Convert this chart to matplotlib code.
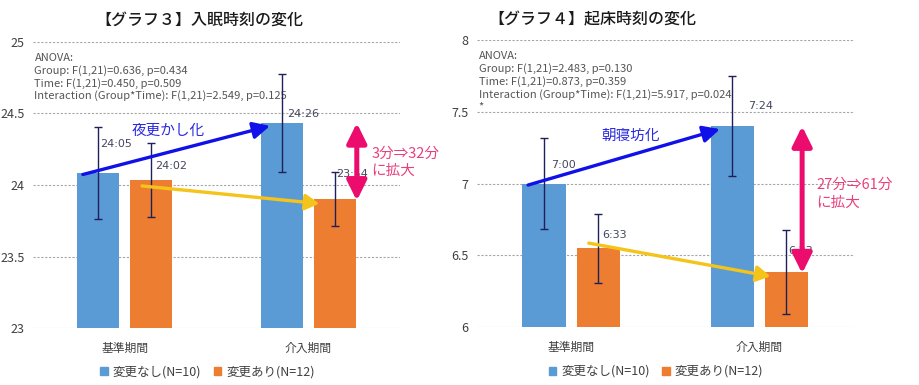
import matplotlib
matplotlib.use("Agg")
import matplotlib.pyplot as plt
from matplotlib.patches import Patch, FancyArrowPatch

plt.rcParams["font.family"] = ["Noto Sans CJK JP", "DejaVu Sans"]
plt.rcParams["axes.unicode_minus"] = False

BLUE = "#5b9bd5"
ORANGE = "#ed7d31"
ERR = "#1f1f5c"
GRID = "#a6a6a6"
TXT = "#404040"
LABEL = "#44475e"
ARROW_BLUE = "#1010e8"
ARROW_YEL = "#f5c41a"
PINK = "#ec0c6e"
PINK_TXT = "#e8407c"

periods = ["基準期間", "介入期間"]
series = ["変更なし(N=10)", "変更あり(N=12)"]

# graph 3: bedtime (means read as h:mm)
bed_none = ["24:05", "24:26"]
bed_change = ["24:02", "23:54"]
bed_none_sd = [0.32, 0.34]
bed_change_sd = [0.26, 0.19]
bed_ticks = [23, 23.5, 24, 24.5, 25]
bed_anova = [
    "ANOVA:",
    "Group: F(1,21)=0.636, p=0.434",
    "Time: F(1,21)=0.450, p=0.509",
    "Interaction (Group*Time): F(1,21)=2.549, p=0.125",
]

# graph 4: wake time
wake_none = ["7:00", "7:24"]
wake_change = ["6:33", "6:23"]
wake_none_sd = [0.32, 0.35]
wake_change_sd = [0.24, 0.29]
wake_ticks = [6, 6.5, 7, 7.5, 8]
wake_anova = [
    "ANOVA:",
    "Group: F(1,21)=2.483, p=0.130",
    "Time: F(1,21)=0.873, p=0.359",
    "Interaction (Group*Time): F(1,21)=5.917, p=0.024",
    "*",
]


def to_hours(s):
    h, m = s.split(":")
    return int(h) + int(m) / 60


W = 0.229
OFF = 0.144


def draw_panel(ax, none, change, none_sd, change_sd, ticks, anova,
               label_dy, label_dx, trend_text, trend_pos, gap_text, gap_pos, pink_x):
    a = [to_hours(s) for s in none]
    b = [to_hours(s) for s in change]
    xa = [i - OFF for i in range(2)]
    xb = [i + OFF for i in range(2)]
    ax.bar(xa, a, W, color=BLUE, zorder=2)
    ax.bar(xb, b, W, color=ORANGE, zorder=2)
    ax.errorbar(xa, a, yerr=none_sd, fmt="none", ecolor=ERR, elinewidth=1,
                capsize=3, capthick=1, zorder=3)
    ax.errorbar(xb, b, yerr=change_sd, fmt="none", ecolor=ERR, elinewidth=1,
                capsize=3, capthick=1, zorder=3)

    labels = [none[0], change[0], none[1], change[1]]
    xs = [xa[0], xb[0], xa[1], xb[1]]
    ys = [a[0], b[0], a[1], b[1]]
    for lab, x, y, dy, dx in zip(labels, xs, ys, label_dy, label_dx):
        ax.text(x + dx, y + dy, lab, fontsize=8, color=LABEL, ha="left",
                va="center", family=["DejaVu Sans"], zorder=4)

    ax.set_ylim(ticks[0], ticks[-1])
    ax.set_xlim(-0.5, 1.5)
    ax.set_yticks(ticks)
    ax.set_yticklabels([f"{t:g}" for t in ticks])
    ax.set_xticks([0, 1])
    ax.set_xticklabels(periods)
    ax.tick_params(axis="both", length=0, colors=TXT)
    ax.tick_params(axis="y", labelsize=9, pad=6)
    ax.tick_params(axis="x", labelsize=8.5, pad=10)
    for sp in ax.spines.values():
        sp.set_visible(False)
    ax.yaxis.grid(True, color=GRID, lw=0.8, linestyle=(0, (2, 1.5)))
    ax.set_axisbelow(True)

    ax.text(0.004, 0.962, "\n".join(anova), transform=ax.transAxes, fontsize=8,
            color="#555555", ha="left", va="top", linespacing=1.22, zorder=1)

    w2 = W / 2
    # blue trend arrow: base blue bar top -> intervention blue bar top
    ax.add_patch(FancyArrowPatch(
        (xa[0] - w2 + 0.03, a[0] - 0.01), (xa[1] - w2 + 0.05, a[1] - 0.02),
        arrowstyle="-|>,head_length=0.85,head_width=0.42", mutation_scale=12,
        color=ARROW_BLUE, lw=2.4, zorder=5, shrinkA=0, shrinkB=0))
    ax.text(trend_pos[0], trend_pos[1], trend_text, fontsize=10.5,
            color="#2a2ae0", ha="left", va="center", zorder=5)
    # yellow trend arrow for changed group
    ax.add_patch(FancyArrowPatch(
        (xb[0] - 0.05, b[0] + label_dy[4]), (xb[1] - w2 + 0.03, b[1] - 0.03),
        arrowstyle="-|>,head_length=0.7,head_width=0.4", mutation_scale=12,
        color=ARROW_YEL, lw=2.4, zorder=5, shrinkA=0, shrinkB=0))
    # pink gap arrow
    ax.add_patch(FancyArrowPatch(
        (pink_x, b[1] - 0.01), (pink_x, a[1]),
        arrowstyle="<|-|>,head_length=0.85,head_width=0.42", mutation_scale=14,
        color=PINK, lw=3.6, zorder=5, shrinkA=0, shrinkB=0, clip_on=False))
    ax.text(gap_pos[0], gap_pos[1], gap_text, fontsize=10.5, color=PINK_TXT,
            ha="left", va="top", linespacing=1.35, zorder=5)

    handles = [Patch(color=BLUE), Patch(color=ORANGE)]
    ax.legend(handles, series, loc="center", bbox_to_anchor=(0.475, -0.155), ncol=2,
              frameon=False, fontsize=9, handlelength=0.6, handleheight=0.6,
              handletextpad=0.4, columnspacing=1.0, labelcolor=TXT)


fig = plt.figure(figsize=(9.2, 3.85), dpi=100, facecolor="white")
ax1 = fig.add_axes([0.0359, 0.148, 0.399, 0.743])
ax2 = fig.add_axes([0.5185, 0.1506, 0.409, 0.745])

draw_panel(ax1, bed_none, bed_change, bed_none_sd, bed_change_sd, bed_ticks, bed_anova,
           label_dy=[0.20, 0.10, 0.06, 0.18, -0.04], label_dx=[0.01, 0.02, 0.027, 0.01],
           trend_text="夜更かし化", trend_pos=(0.04, 24.38),
           gap_text="3分⇒32分\nに拡大", gap_pos=(1.345, 24.27), pink_x=1.264)
draw_panel(ax2, wake_none, wake_change, wake_none_sd, wake_change_sd, wake_ticks, wake_anova,
           label_dy=[0.13, 0.09, 0.14, 0.15, 0.035], label_dx=[0.04, 0.024, 0.087, 0.008],
           trend_text="朝寝坊化", trend_pos=(0.16, 7.33),
           gap_text="27分⇒61分\nに拡大", gap_pos=(1.305, 7.04), pink_x=1.228)

fig.text(0.217, 0.948, "【グラフ３】入眠時刻の変化", fontsize=11.5, ha="center",
         va="center", color="#1a1a1a", fontweight="medium")
fig.text(0.644, 0.948, "【グラフ４】起床時刻の変化", fontsize=11.5, ha="center",
         va="center", color="#1a1a1a", fontweight="medium")

fig.savefig("out.png", dpi=100, facecolor="white")
